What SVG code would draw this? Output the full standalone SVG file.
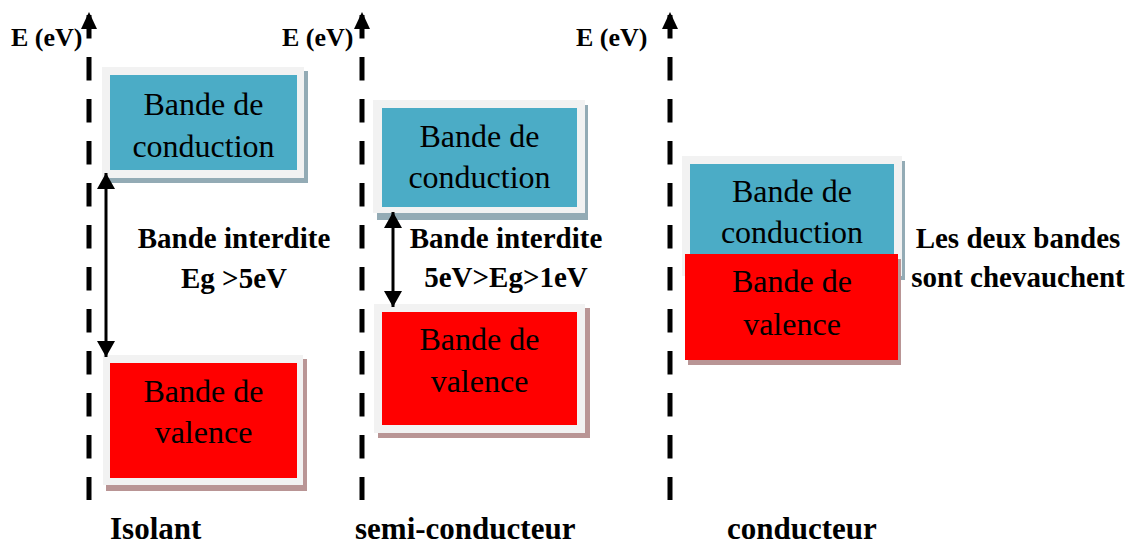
<svg xmlns="http://www.w3.org/2000/svg" width="1131" height="544" viewBox="0 0 1131 544">
  <style>
    .axis { stroke: #000; stroke-width: 5; stroke-dasharray: 23.5 18.5; fill: none; }
    .head { fill: #000; }
    .gap { stroke: #000; stroke-width: 3; fill: none; }
    .frame { fill: #f2f2f2; }
    .cb { fill: #4bacc6; }
    .vb { fill: #ff0000; }
    .cb-sh { fill: #93abb5; }
    .vb-sh { fill: #b99595; }
  </style>
  <defs>
    <marker id="tip" viewBox="0 0 16 18" refX="16" refY="9" markerWidth="16" markerHeight="18" markerUnits="userSpaceOnUse" orient="auto-start-reverse">
      <path d="M0,0 L16,9 L0,18 Z" fill="#000"/>
    </marker>
  </defs>

  <!-- energy axes -->
  <g id="axes">
    <line class="axis" x1="89" y1="15" x2="89" y2="500"/>
    <polygon class="head" points="89,12 81,29 97,29"/>
    <line class="axis" x1="362" y1="15" x2="362" y2="500"/>
    <polygon class="head" points="362,12 354,29 370,29"/>
    <line class="axis" x1="670" y1="15" x2="670" y2="500"/>
    <polygon class="head" points="670,12 662,29 678,29"/>
    <text x="11" y="46" font-family="Liberation Serif" font-weight="bold" font-size="26">E (eV)</text>
    <text x="282" y="46" font-family="Liberation Serif" font-weight="bold" font-size="26">E (eV)</text>
    <text x="576" y="46" font-family="Liberation Serif" font-weight="bold" font-size="26">E (eV)</text>
  </g>

  <!-- insulator -->
  <g id="isolant-conduction">
    <rect class="cb-sh" x="106" y="71" width="202" height="112"/>
    <rect class="frame" x="102" y="67" width="202" height="111"/>
    <rect class="cb" x="110" y="75" width="187" height="95"/>
    <text x="203.5" y="115" font-family="Liberation Serif" font-size="32" text-anchor="middle">Bande de</text>
    <text x="203.5" y="157" font-family="Liberation Serif" font-size="32" text-anchor="middle">conduction</text>
  </g>
  <g id="isolant-valence">
    <rect class="vb-sh" x="106" y="359" width="201" height="132"/>
    <rect class="frame" x="103" y="355" width="200" height="130"/>
    <rect class="vb" x="110" y="363" width="187" height="115"/>
    <text x="203.5" y="402" font-family="Liberation Serif" font-size="32" text-anchor="middle">Bande de</text>
    <text x="203.5" y="443" font-family="Liberation Serif" font-size="32" text-anchor="middle">valence</text>
  </g>
  <g id="isolant-gap">
    <text x="234" y="248" font-family="Liberation Serif" font-weight="bold" font-size="29" text-anchor="middle">Bande interdite</text>
    <text x="234" y="288" font-family="Liberation Serif" font-weight="bold" font-size="29" text-anchor="middle">Eg &gt;5eV</text>
  </g>
  <text x="110" y="539" font-family="Liberation Serif" font-weight="bold" font-size="31">Isolant</text>

  <!-- semiconductor -->
  <g id="semi-conduction">
    <rect class="cb-sh" x="377" y="105" width="211" height="115"/>
    <rect class="frame" x="373" y="100" width="212" height="113"/>
    <rect class="cb" x="382" y="108" width="195" height="99"/>
    <text x="479.5" y="147" font-family="Liberation Serif" font-size="32" text-anchor="middle">Bande de</text>
    <text x="479.5" y="188" font-family="Liberation Serif" font-size="32" text-anchor="middle">conduction</text>
  </g>
  <g id="semi-valence">
    <rect class="vb-sh" x="378" y="308" width="212" height="130"/>
    <rect class="frame" x="374" y="304" width="211" height="129"/>
    <rect class="vb" x="382" y="312" width="195" height="113"/>
    <text x="479.5" y="350" font-family="Liberation Serif" font-size="32" text-anchor="middle">Bande de</text>
    <text x="479.5" y="392" font-family="Liberation Serif" font-size="32" text-anchor="middle">valence</text>
  </g>
  <g id="semi-gap">
    <text x="506" y="248" font-family="Liberation Serif" font-weight="bold" font-size="29" text-anchor="middle">Bande interdite</text>
    <text x="506" y="287" font-family="Liberation Serif" font-weight="bold" font-size="29" text-anchor="middle">5eV&gt;Eg&gt;1eV</text>
  </g>
  <text x="355" y="539" font-family="Liberation Serif" font-weight="bold" font-size="31">semi-conducteur</text>

  <!-- conductor -->
  <g id="cond-conduction">
    <rect class="cb-sh" x="686" y="161" width="219" height="119"/>
    <rect class="frame" x="682" y="156" width="220" height="120"/>
    <rect class="cb" x="690" y="164" width="204" height="100"/>
    <text x="792" y="202" font-family="Liberation Serif" font-size="32" text-anchor="middle">Bande de</text>
    <text x="792" y="243" font-family="Liberation Serif" font-size="32" text-anchor="middle">conduction</text>
  </g>
  <g id="cond-valence">
    <rect class="vb-sh" x="688" y="259" width="213" height="106"/>
    <rect class="vb" x="685" y="254" width="213" height="106"/>
    <text x="792" y="292" font-family="Liberation Serif" font-size="32" text-anchor="middle">Bande de</text>
    <text x="792" y="335" font-family="Liberation Serif" font-size="32" text-anchor="middle">valence</text>
  </g>
  <g id="cond-overlap">
    <text x="1018" y="248" font-family="Liberation Serif" font-weight="bold" font-size="29" text-anchor="middle">Les deux bandes</text>
    <text x="1018" y="287" font-family="Liberation Serif" font-weight="bold" font-size="29" text-anchor="middle">sont chevauchent</text>
  </g>
  <text x="727" y="539" font-family="Liberation Serif" font-weight="bold" font-size="31">conducteur</text>

  <!-- band-gap arrows -->
  <g id="connectors">
    <line class="gap" x1="106" y1="173" x2="106" y2="357" marker-start="url(#tip)" marker-end="url(#tip)"/>
    <line class="gap" x1="393" y1="212" x2="393" y2="307" marker-start="url(#tip)" marker-end="url(#tip)"/>
  </g>
</svg>
